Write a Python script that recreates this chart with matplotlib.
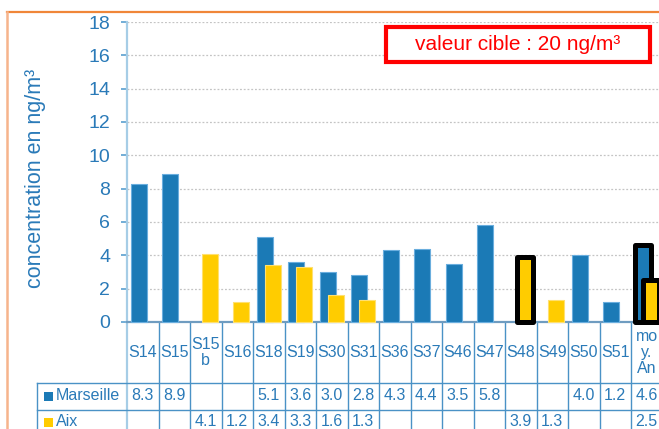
import matplotlib
matplotlib.use("Agg")
import matplotlib.pyplot as plt
import matplotlib.patches as mpatches
import matplotlib.transforms as mtransforms
from matplotlib.lines import Line2D

plt.rcParams["font.family"] = ["Liberation Sans", "DejaVu Sans"]

# data
categories = ["S14", "S15", "S15\nb", "S16", "S18", "S19", "S30", "S31", "S36",
              "S37", "S46", "S47", "S48", "S49", "S50", "S51", "mo\ny.\nAn"]
marseille = [8.3, 8.9, None, None, 5.1, 3.6, 3.0, 2.8, 4.3, 4.4, 3.5, 5.8,
             None, None, 4.0, 1.2, 4.6]
aix = [None, None, 4.1, 1.2, 3.4, 3.3, 1.6, 1.3, None, None, None, None,
       3.9, 1.3, None, None, 2.5]
highlight_marseille = ["mo\ny.\nAn"]
highlight_aix = ["S48", "mo\ny.\nAn"]
series_names = ["Marseille", "Aix"]
target_label = "valeur cible : 20 ng/m³"

BLUE = "#1b7ab6"
YELLOW = "#ffcc00"
TXT = "#2a7ab8"
GRID_LINE = "#4a92c6"

W, H = 659, 429
fig = plt.figure(figsize=(W / 100, H / 100), dpi=100)


def fx(px):
    return px / W


def fy(py):
    return 1 - py / H


n = len(categories)
col_w = 31.5
ax = fig.add_axes([fx(127), fy(322), fx(n * col_w), 300 / H])
ax.set_xlim(-0.5, n - 0.5)
ax.set_ylim(0, 18)

for i, (m, a) in enumerate(zip(marseille, aix)):
    if m is not None:
        hl = categories[i] in highlight_marseille
        ax.bar(i - 0.125, m, width=0.5, color=BLUE,
               edgecolor="black" if hl else "#6aaede",
               linewidth=3.6 if hl else 0.8, joinstyle="round",
               zorder=3, clip_on=False)
    if a is not None:
        hl = categories[i] in highlight_aix
        ax.bar(i + 0.125, a, width=0.5, color=YELLOW,
               edgecolor="black" if hl else "#ffe070",
               linewidth=3.6 if hl else 0.8, joinstyle="round",
               zorder=4 if hl else 3.5, clip_on=False)

ax.set_yticks(range(0, 19, 2))
ax.set_xticks([])
ax.grid(axis="y", linestyle=(0, (1.5, 1.5)), color="#c4c4c4", linewidth=0.9)
ax.set_axisbelow(True)
for s in ["top", "right"]:
    ax.spines[s].set_visible(False)
ax.spines["left"].set_color("#a6cde6")
ax.spines["left"].set_linewidth(1.6)
ax.spines["bottom"].set_color("#6f9cc0")
ax.spines["bottom"].set_linewidth(1.6)
ax.tick_params(axis="y", colors="#5a9fd0", labelcolor=TXT, labelsize=14,
               length=4, width=1.2, pad=8)

fig.text(fx(36), fy(178), "concentration en ng/m³", rotation=90,
         ha="center", va="center", color=TXT, fontsize=15.5)

# table under the chart
tr = mtransforms.blended_transform_factory(ax.transData, fig.transFigure)
row_top, row_mid1, row_mid2, row_bot = fy(322), fy(383), fy(410), fy(440)
for i in range(n + 1):
    ax.add_line(Line2D([i - 0.5, i - 0.5], [row_top, row_bot], transform=tr,
                       color=GRID_LINE if i > 0 else "#a6cde6",
                       lw=1.6 if i == 0 else 1.0, clip_on=False))
for yy in (row_mid1, row_mid2):
    fig.add_artist(Line2D([fx(37), 1], [yy, yy], color=GRID_LINE, lw=1.0))
fig.add_artist(Line2D([fx(37), fx(37)], [row_mid1, row_bot], color=GRID_LINE,
                      lw=1.0))

for i, lab in enumerate(categories):
    ax.text(i, (row_top + row_mid1) / 2, lab, transform=tr, ha="center",
            va="center", color=TXT, fontsize=11.5, linespacing=1.1,
            clip_on=False)
for row, (vals, yc) in enumerate([(marseille, fy(396)), (aix, fy(422))]):
    for i, v in enumerate(vals):
        if v is not None:
            ax.text(i, yc, f"{v:.1f}", transform=tr, ha="center",
                    va="center", color=TXT, fontsize=11.5, clip_on=False)
    fig.add_artist(mpatches.Rectangle((fx(44), yc - 4.5 / H), fx(9), 9 / H,
                                      color=[BLUE, YELLOW][row], lw=0))
    fig.text(fx(56), yc, series_names[row], ha="left", va="center",
             color=TXT, fontsize=11.5)

# target value box
fig.add_artist(mpatches.Rectangle((fx(386), fy(62)), fx(264), 35 / H,
                                  facecolor="white", edgecolor="#ff0000",
                                  lw=3.0))
fig.text(fx(518), fy(45), target_label, ha="center", va="center",
         color="#ff0000", fontsize=15)

# orange frame
fig.add_artist(Line2D([fx(7), 1], [fy(12), fy(12)], color="#f08638", lw=1.6))
fig.add_artist(Line2D([fx(7), fx(7)], [fy(12), 0], color="#f6b48c", lw=1.8))

fig.savefig("out.png", dpi=100)
